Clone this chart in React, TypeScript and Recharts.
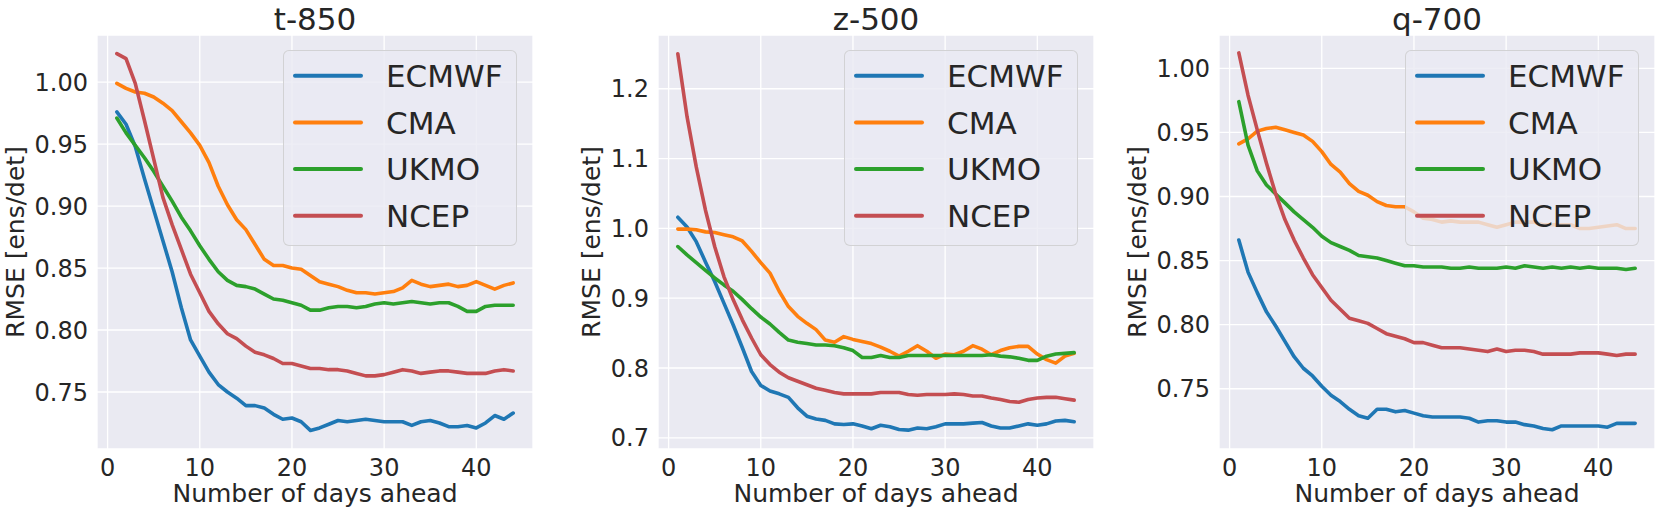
import { LineChart, Line, XAxis, YAxis, CartesianGrid } from 'recharts'

const days = [
  1, 2, 3, 4, 5, 6, 7, 8, 9, 10, 11, 12, 13, 14, 15, 16, 17, 18, 19, 20, 21, 22,
  23, 24, 25, 26, 27, 28, 29, 30, 31, 32, 33, 34, 35, 36, 37, 38, 39, 40, 41, 42, 43, 44,
]
const models = ['ECMWF', 'CMA', 'UKMO', 'NCEP']
const modelColors = ['#1f77b4', '#ff7f0e', '#2ca02c', '#c44e52']
const xTicks = [0, 10, 20, 30, 40]

// t-850
const t850Ecmwf = [
  0.976, 0.966, 0.948, 0.922, 0.897, 0.872, 0.847, 0.818, 0.792, 0.779, 0.766, 0.756, 0.75, 0.745,
  0.739, 0.739, 0.737, 0.732, 0.728, 0.729, 0.726, 0.719, 0.721, 0.724, 0.727, 0.726, 0.727, 0.728,
  0.727, 0.726, 0.726, 0.726, 0.723, 0.726, 0.727, 0.725, 0.722, 0.722, 0.723, 0.721, 0.725, 0.731,
  0.728, 0.733,
]
const t850Cma = [
  0.999, 0.995, 0.992, 0.991, 0.988, 0.983, 0.977, 0.968, 0.959, 0.949, 0.935, 0.916, 0.901, 0.889,
  0.881, 0.869, 0.857, 0.852, 0.852, 0.85, 0.849, 0.844, 0.839, 0.837, 0.835, 0.832, 0.83, 0.83,
  0.829, 0.83, 0.831, 0.834, 0.84, 0.837, 0.835, 0.836, 0.837, 0.835, 0.836, 0.839, 0.836, 0.833,
  0.836, 0.838,
]
const t850Ukmo = [
  0.971, 0.959, 0.949, 0.939, 0.928, 0.916, 0.904, 0.891, 0.88, 0.868, 0.857, 0.847, 0.84, 0.836,
  0.835, 0.833, 0.829, 0.825, 0.824, 0.822, 0.82, 0.816, 0.816, 0.818, 0.819, 0.819, 0.818, 0.819,
  0.821, 0.822, 0.821, 0.822, 0.823, 0.822, 0.821, 0.822, 0.822, 0.819, 0.815, 0.815, 0.819, 0.82,
  0.82, 0.82,
]
const t850Ncep = [
  1.023, 1.019, 0.999, 0.969, 0.938, 0.907, 0.885, 0.865, 0.845, 0.83, 0.815, 0.805, 0.797, 0.793,
  0.787, 0.782, 0.78, 0.777, 0.773, 0.773, 0.771, 0.769, 0.769, 0.768, 0.768, 0.767, 0.765, 0.763,
  0.763, 0.764, 0.766, 0.768, 0.767, 0.765, 0.766, 0.767, 0.767, 0.766, 0.765, 0.765, 0.765, 0.767,
  0.768, 0.767,
]

// z-500
const z500Ecmwf = [
  1.016, 1.002, 0.981, 0.952, 0.924, 0.893, 0.862, 0.829, 0.795, 0.775, 0.767, 0.763, 0.758, 0.743,
  0.731, 0.727, 0.725, 0.72, 0.719, 0.72, 0.717, 0.713, 0.718, 0.716, 0.712, 0.711, 0.714, 0.713,
  0.716, 0.72, 0.72, 0.72, 0.721, 0.722, 0.717, 0.714, 0.714, 0.717, 0.72, 0.718, 0.72, 0.724,
  0.725, 0.723,
]
const z500Cma = [
  0.999, 0.999, 0.998, 0.995, 0.994, 0.991, 0.988, 0.982, 0.967, 0.951, 0.936, 0.91, 0.888, 0.874,
  0.864, 0.855, 0.84, 0.837, 0.845, 0.841, 0.838, 0.835, 0.83, 0.824, 0.817, 0.824, 0.832, 0.824,
  0.814, 0.82, 0.819, 0.824, 0.832, 0.827, 0.819, 0.825, 0.829, 0.831, 0.831, 0.82, 0.812, 0.807,
  0.817, 0.821,
]
const z500Ukmo = [
  0.974, 0.962, 0.951, 0.94, 0.929, 0.919, 0.91, 0.898, 0.885, 0.873, 0.863, 0.851, 0.84, 0.837,
  0.835, 0.833, 0.833, 0.832, 0.829, 0.825, 0.815, 0.815, 0.818, 0.815, 0.815, 0.818, 0.818, 0.818,
  0.818, 0.818, 0.818, 0.818, 0.818, 0.818, 0.819, 0.817, 0.816, 0.814, 0.811, 0.811, 0.817, 0.82,
  0.821, 0.822,
]
const z500Ncep = [
  1.25, 1.16, 1.088, 1.026, 0.974, 0.931, 0.898, 0.869, 0.843, 0.819, 0.805, 0.794, 0.786, 0.781,
  0.776, 0.771, 0.768, 0.765, 0.763, 0.763, 0.763, 0.763, 0.765, 0.765, 0.765, 0.762, 0.761, 0.762,
  0.762, 0.762, 0.763, 0.762, 0.76, 0.76, 0.757, 0.755, 0.752, 0.751, 0.755, 0.757, 0.758, 0.758,
  0.756, 0.754,
]

// q-700
const q700Ecmwf = [
  0.866, 0.841, 0.825, 0.81, 0.799, 0.787, 0.775, 0.766, 0.76, 0.752, 0.745, 0.74, 0.734, 0.729,
  0.727, 0.734, 0.734, 0.732, 0.733, 0.731, 0.729, 0.728, 0.728, 0.728, 0.728, 0.727, 0.724, 0.725,
  0.725, 0.724, 0.724, 0.722, 0.721, 0.719, 0.718, 0.721, 0.721, 0.721, 0.721, 0.721, 0.72, 0.723,
  0.723, 0.723,
]
const q700Cma = [
  0.941, 0.945, 0.951, 0.953, 0.954, 0.952, 0.95, 0.948, 0.943, 0.935, 0.925, 0.919, 0.91, 0.904,
  0.901, 0.896, 0.893, 0.892, 0.892, 0.888, 0.883, 0.882, 0.88, 0.881, 0.88, 0.88, 0.88, 0.878,
  0.876, 0.878, 0.88, 0.88, 0.88, 0.878, 0.878, 0.878, 0.878, 0.875, 0.875, 0.876, 0.877, 0.878,
  0.875, 0.875,
]
const q700Ukmo = [
  0.974, 0.94, 0.92, 0.909, 0.902, 0.895, 0.888, 0.882, 0.876, 0.869, 0.864, 0.861, 0.858, 0.854,
  0.853, 0.852, 0.85, 0.848, 0.846, 0.846, 0.845, 0.845, 0.845, 0.844, 0.844, 0.845, 0.844, 0.844,
  0.844, 0.845, 0.844, 0.846, 0.845, 0.844, 0.845, 0.844, 0.845, 0.844, 0.845, 0.844, 0.844, 0.844,
  0.843, 0.844,
]
const q700Ncep = [
  1.012, 0.979, 0.952, 0.926, 0.902, 0.882, 0.866, 0.852, 0.839, 0.829, 0.819, 0.812, 0.805, 0.803,
  0.801, 0.797, 0.793, 0.791, 0.789, 0.786, 0.786, 0.784, 0.782, 0.782, 0.782, 0.781, 0.78, 0.779,
  0.781, 0.779, 0.78, 0.78, 0.779, 0.777, 0.777, 0.777, 0.777, 0.778, 0.778, 0.778, 0.777, 0.776,
  0.777, 0.777,
]

const t850Ticks = [0.75, 0.8, 0.85, 0.9, 0.95, 1.0]
const z500Ticks = [0.7, 0.8, 0.9, 1.0, 1.1, 1.2]
const q700Ticks = [0.75, 0.8, 0.85, 0.9, 0.95, 1.0]

const FONT = 'DejaVu Sans'
const TEXT = '#262626'
const BG = '#EAEAF2'

// plot geometry shared by the 3 panels
const PANEL_STEP = 561
const PLOT_LEFT = 97
const PLOT_W = 436
const PLOT_TOP = 35
const PLOT_BOTTOM = 449
const CHART_W = 539
const CHART_H = 515

interface PanelProps {
  index: number
  title: string
  series: number[][]
  yDomain: [number, number]
  yTicks: number[]
  decimals: number
  yLabelGap: number
}

function Panel({ index, title, series, yDomain, yTicks, decimals, yLabelGap }: PanelProps) {
  const data = days.map((day, i) => {
    const row: Record<string, number> = { day }
    models.forEach((m, k) => {
      row[m] = series[k][i]
    })
    return row
  })
  const left = index * PANEL_STEP
  const cx = PLOT_LEFT + PLOT_W / 2
  const cy = (PLOT_TOP + PLOT_BOTTOM) / 2
  const legendLeft = PLOT_LEFT + PLOT_W - 16 - 234

  return (
    <div style={{ position: 'absolute', left, top: 0, width: CHART_W, height: CHART_H }}>
      <LineChart
        width={CHART_W}
        height={CHART_H}
        data={data}
        margin={{ top: PLOT_TOP, right: CHART_W - PLOT_LEFT - PLOT_W, left: 0, bottom: 0 }}
        style={{ fontFamily: FONT }}
      >
        <CartesianGrid fill={BG} stroke="#ffffff" strokeWidth={1.3} />
        <XAxis
          dataKey="day"
          type="number"
          domain={[-1.15, 46.15]}
          ticks={xTicks}
          allowDataOverflow
          axisLine={false}
          tickLine={false}
          tickSize={0}
          tickMargin={10}
          height={CHART_H - PLOT_BOTTOM}
          tick={{ fill: TEXT, fontSize: 24, fontFamily: FONT }}
        />
        <YAxis
          type="number"
          domain={yDomain}
          ticks={yTicks}
          allowDataOverflow
          axisLine={false}
          tickLine={false}
          tickSize={0}
          tickMargin={9}
          width={PLOT_LEFT}
          tick={{ fill: TEXT, fontSize: 24, fontFamily: FONT }}
          tickFormatter={(v: number) => v.toFixed(decimals)}
        />
        {models.map((m, k) => (
          <Line
            key={m}
            type="linear"
            dataKey={m}
            stroke={modelColors[k]}
            strokeWidth={3.6}
            dot={false}
            isAnimationActive={false}
            strokeLinejoin="round"
            strokeLinecap="round"
          />
        ))}
      </LineChart>
      <svg
        width={CHART_W}
        height={CHART_H}
        style={{ position: 'absolute', left: 0, top: 0, pointerEvents: 'none' }}
        fontFamily={FONT}
        fill={TEXT}
      >
        <text x={cx} y={30} fontSize={31} textAnchor="middle">
          {title}
        </text>
        <text x={cx} y={502} fontSize={25} textAnchor="middle">
          Number of days ahead
        </text>
        <text
          transform={`translate(${PLOT_LEFT - yLabelGap},${cy}) rotate(-90)`}
          fontSize={25}
          textAnchor="middle"
        >
          RMSE [ens/det]
        </text>
      </svg>
      <div
        style={{
          position: 'absolute',
          left: legendLeft,
          top: PLOT_TOP + 15,
          width: 234,
          height: 196,
          boxSizing: 'border-box',
          background: 'rgba(234,234,242,0.8)',
          border: '1px solid rgba(204,204,204,0.8)',
          borderRadius: 6,
        }}
      >
        <svg width={232} height={194} style={{ position: 'absolute', left: 0, top: 0 }}>
          {models.map((m, k) => {
            const y = 24.7 + k * 46.7
            return (
              <g key={m}>
                <line x1={11} x2={77} y1={y} y2={y} stroke={modelColors[k]} strokeWidth={4} strokeLinecap="round" />
                <text x={102} y={y + 11.3} fontSize={31} fontFamily={FONT} fill={TEXT}>
                  {m}
                </text>
              </g>
            )
          })}
        </svg>
      </div>
    </div>
  )
}

export default function App() {
  return (
    <div
      style={{
        position: 'absolute',
        left: 0,
        top: 0,
        width: 1661,
        height: 515,
        background: '#ffffff',
        overflow: 'hidden',
      }}
    >
      <Panel
        index={0}
        title="t-850"
        series={[t850Ecmwf, t850Cma, t850Ukmo, t850Ncep]}
        yDomain={[0.704, 1.038]}
        yTicks={t850Ticks}
        decimals={2}
        yLabelGap={73}
      />
      <Panel
        index={1}
        title="z-500"
        series={[z500Ecmwf, z500Cma, z500Ukmo, z500Ncep]}
        yDomain={[0.684, 1.277]}
        yTicks={z500Ticks}
        decimals={1}
        yLabelGap={58}
      />
      <Panel
        index={2}
        title="q-700"
        series={[q700Ecmwf, q700Cma, q700Ukmo, q700Ncep]}
        yDomain={[0.703, 1.026]}
        yTicks={q700Ticks}
        decimals={2}
        yLabelGap={73}
      />
    </div>
  )
}
